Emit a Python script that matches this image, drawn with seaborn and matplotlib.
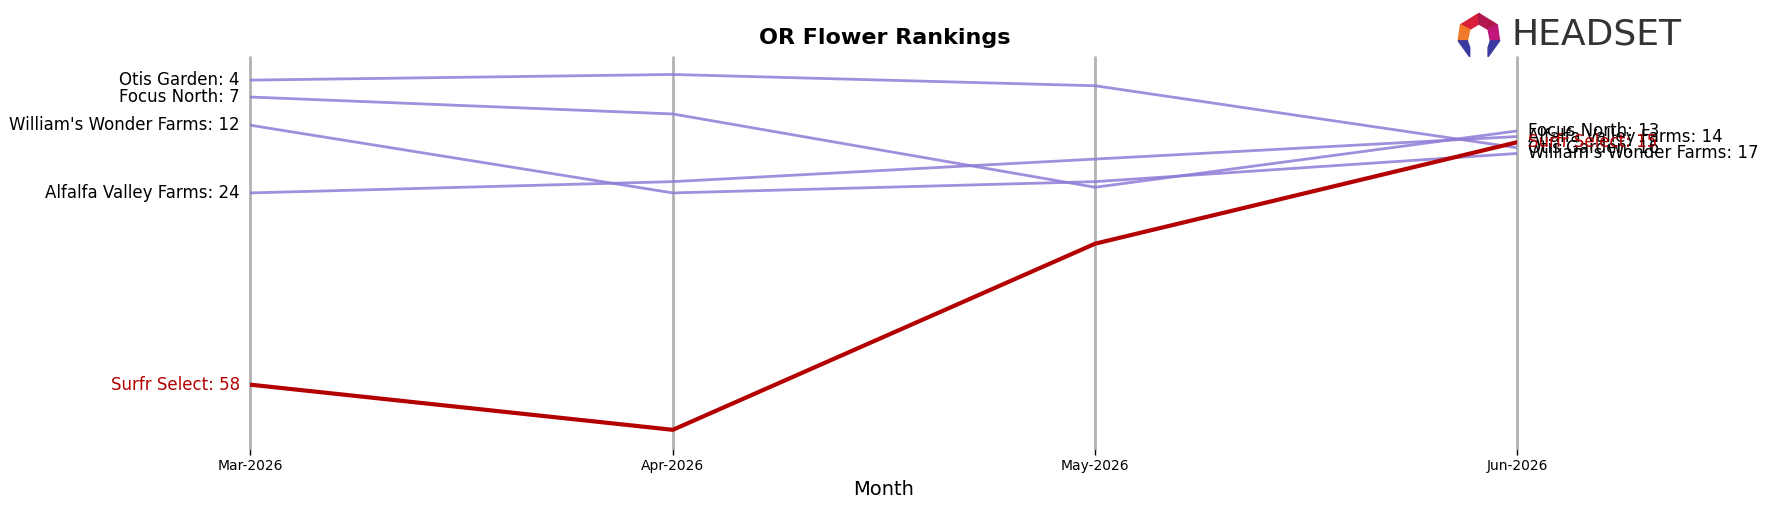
import matplotlib
matplotlib.use("Agg")
import matplotlib.pyplot as plt
from matplotlib.patches import Polygon
import seaborn as sns
import pandas as pd

# chart data (rank per month, lower = better)
months = ["Mar-2026", "Apr-2026", "May-2026", "Jun-2026"]
brands = ["Otis Garden", "Focus North", "William's Wonder Farms", "Alfalfa Valley Farms", "Surfr Select"]
otis_garden = [4, 3, 5, 16]
focus_north = [7, 10, 23, 13]
williams_wonder = [12, 24, 22, 17]
alfalfa_valley = [24, 22, 18, 14]
surfr_select = [58, 66, 33, 15]
highlight = "Surfr Select"

ranks = [otis_garden, focus_north, williams_wonder, alfalfa_valley, surfr_select]
rows = []
for b, r in zip(brands, ranks):
    for i, m in enumerate(months):
        rows.append({"brand": b, "month_idx": i, "month": m, "rank": r[i]})
df = pd.DataFrame(rows)

sns.set_style("white")
plt.rcParams["font.family"] = ["DejaVu Sans"]
plt.rcParams["text.color"] = "black"
plt.rcParams["axes.labelcolor"] = "black"
plt.rcParams["xtick.color"] = "black"

fig = plt.figure(figsize=(17.69, 5.07), dpi=100)
ax = fig.add_axes([0.1416, 0.1144, 0.7162, 0.7732])

purple = "#8f7bd6"
red = "#b30000"

for i in range(len(months)):
    ax.axvline(i, color="grey", alpha=0.6, lw=2, clip_on=False, zorder=1)

for b in brands:
    sub = df[df["brand"] == b]
    if b == highlight:
        sns.lineplot(data=sub, x="month_idx", y="rank", ax=ax, color=red, lw=3, zorder=3)
    else:
        sns.lineplot(data=sub, x="month_idx", y="rank", ax=ax, color=purple, lw=2, alpha=0.85, zorder=2)

# labels on both sides
for b in brands:
    sub = df[df["brand"] == b].sort_values("month_idx")
    col = red if b == highlight else "black"
    first = sub.iloc[0]["rank"]
    last = sub.iloc[-1]["rank"]
    ax.text(-0.025, first, f"{b}: {first}", ha="right", va="center", fontsize=12, color=col)
    ax.text(3.025, last, f"{b}: {last}", ha="left", va="center", fontsize=12, color=col)

ax.set_xlim(0, 3)
ax.set_ylim(69.4, -0.1)
ax.set_xticks(range(len(months)))
ax.set_xticklabels(months, fontsize=10)
ax.set_yticks([])
ax.tick_params(axis="x", length=4, width=1, direction="out", bottom=True, color="black")
ax.set_xlabel("Month", fontsize=14, labelpad=5)
ax.set_ylabel("")
for s in ax.spines.values():
    s.set_visible(False)

fig.text(0.5, 0.925, "OR Flower Rankings", ha="center", va="center", fontsize=16, fontweight="bold")

# logo
lax = fig.add_axes([0.823, 0.888, 0.026, 0.09])
lax.set_xlim(0, 1)
lax.set_ylim(0, 1)
lax.axis("off")
pieces = [
    ([(0.1, 0.7), (0.5, 0.95), (0.5, 0.72), (0.3, 0.6)], "#d8203a"),
    ([(0.5, 0.95), (0.9, 0.7), (0.7, 0.6), (0.5, 0.72)], "#b0174f"),
    ([(0.9, 0.7), (0.95, 0.35), (0.75, 0.35), (0.7, 0.6)], "#c0187a"),
    ([(0.1, 0.7), (0.3, 0.6), (0.25, 0.35), (0.05, 0.35)], "#f07a2a"),
    ([(0.05, 0.35), (0.25, 0.35), (0.3, 0.2), (0.3, 0.0)], "#3a3aa0"),
    ([(0.75, 0.35), (0.95, 0.35), (0.7, 0.0), (0.7, 0.2)], "#3a3aa0"),
]
for pts, c in pieces:
    lax.add_patch(Polygon(pts, closed=True, color=c))
fig.text(0.8545, 0.932, "HEADSET", ha="left", va="center", fontsize=26, color="#333333")

fig.savefig("out.png", dpi=100)
